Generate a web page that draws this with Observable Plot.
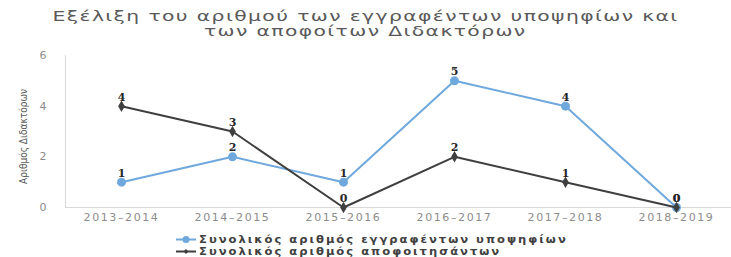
<!DOCTYPE html>
<html><head><meta charset="utf-8">
<script src="https://cdn.jsdelivr.net/npm/d3@7"></script>
<script src="https://cdn.jsdelivr.net/npm/@observablehq/plot@0.6"></script>
<style>
body{margin:0;background:#fff;width:731px;height:257px;overflow:hidden;font-family:"DejaVu Sans",sans-serif;}
#title{height:44px;position:relative;color:#595959;}
.tl{position:absolute;left:0;width:731px;text-align:center;font-size:14.5px;line-height:15px;white-space:nowrap;}
.tl span{display:inline-block;letter-spacing:1px;transform:scaleX(1.4);transform-origin:center;}
#chart{height:182px;}
#legend{position:relative;height:31px;}
.lg{position:absolute;left:176px;height:11px;line-height:11px;font-size:11px;font-weight:bold;color:#404040;white-space:nowrap;}
.lg svg{vertical-align:top;margin-right:3px;}
.lg span{display:inline-block;letter-spacing:1.9px;transform:scaleX(1.05);transform-origin:left center;}
svg [aria-label="x-axis tick label"] text{letter-spacing:1.6px;}
</style>
</head><body>
<div id="title">
  <div class="tl" style="top:9px"><span>Εξέλιξη του αριθμού των εγγραφέντων υποψηφίων και</span></div>
  <div class="tl" style="top:24px"><span>των αποφοίτων Διδακτόρων</span></div>
</div>
<div id="chart"></div>
<div id="legend"></div>
<script>
const years = ["2013–2014","2014–2015","2015–2016","2016–2017","2017–2018","2018–2019"];
const enrolled = [1,2,1,5,4,0];
const graduates = [4,3,0,2,1,0];
const yTicks = [0,2,4,6];
const seriesNames = ["Συνολικός αριθμός εγγραφέντων υποψηφίων","Συνολικός αριθμός αποφοιτησάντων"];
const colors = ["#6fa8dc","#3f3f3f"];
const yTitle = "Αριθμός Διδακτόρων";

const enrolledRows = years.map((y,i)=>({year:y, value:enrolled[i]}));
const gradRows = years.map((y,i)=>({year:y, value:graduates[i]}));

const chart = Plot.plot({
  width:731, height:182,
  marginTop:11, marginBottom:19, marginLeft:65, marginRight:0,
  x:{type:"point", domain:years, padding:0.5, label:null},
  y:{domain:[0,6], label:null},
  style:{fontFamily:"DejaVu Sans", fontSize:"11px", background:"white"},
  marks:[
    Plot.frame({anchor:"left", stroke:"#d9d9d9"}),
    Plot.ruleY([0], {stroke:"#d9d9d9"}),
    Plot.axisX({tickSize:0, tickPadding:6, color:"#8c8c8c", fontSize:11}),
    Plot.axisY({ticks:yTicks, tickFormat:d=>String(d), tickSize:0, tickPadding:19, color:"#8c8c8c", fontSize:11, label:null}),
    Plot.text([yTitle], {text:d=>d, frameAnchor:"left", textAnchor:"middle", rotate:-90, dx:-42, dy:5, fontSize:10, fill:"#595959", fontFamily:"DejaVu Sans Condensed"}),
    Plot.line(enrolledRows, {x:"year", y:"value", stroke:colors[0], strokeWidth:2}),
    Plot.dot(enrolledRows, {x:"year", y:"value", r:4.5, fill:colors[0], stroke:"none"}),
    Plot.line(gradRows, {x:"year", y:"value", stroke:colors[1], strokeWidth:2}),
    Plot.dot(gradRows, {x:"year", y:"value", r:3.5, symbol:"diamond", fill:colors[1], stroke:"none"}),
    Plot.text(enrolledRows, {x:"year", y:"value", text:d=>String(d.value), dy:-9, fontWeight:"bold", fontSize:11, fontFamily:"DejaVu Serif", fill:"#262626"}),
    Plot.text(gradRows, {x:"year", y:"value", text:d=>String(d.value), dy:-9, fontWeight:"bold", fontSize:11, fontFamily:"DejaVu Serif", fill:"#262626"})
  ]
});
document.getElementById("chart").appendChild(chart);

const legend = document.getElementById("legend");
seriesNames.forEach((name,i)=>{
  const row = document.createElement("div");
  row.className = "lg";
  row.style.top = (8 + i*12) + "px";
  const marker = i === 0
    ? `<circle cx="10" cy="5.5" r="3.5" fill="${colors[i]}"/>`
    : `<path d="M10 3 L12.5 5.5 L10 8 L7.5 5.5 Z" fill="${colors[i]}"/>`;
  row.innerHTML = `<svg width="20" height="11"><line x1="0" x2="20" y1="5.5" y2="5.5" stroke="${colors[i]}" stroke-width="2"/>${marker}</svg><span>${name}</span>`;
  legend.appendChild(row);
});
</script>
</body></html>
